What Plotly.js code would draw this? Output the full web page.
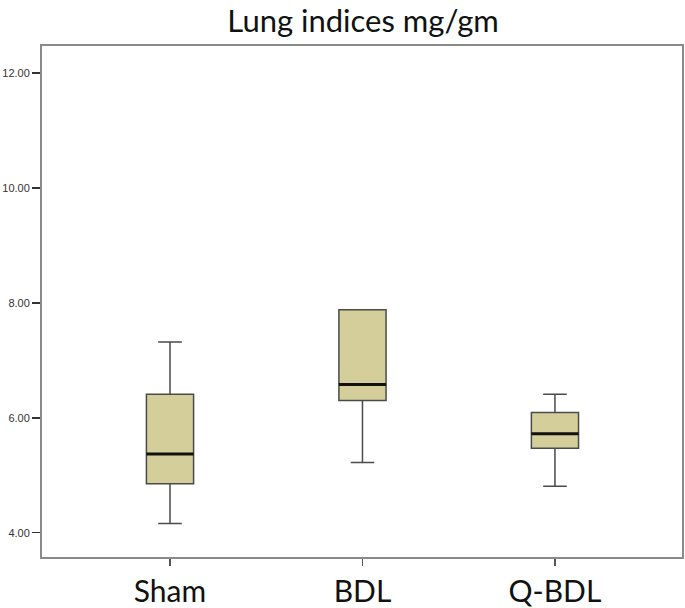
<!DOCTYPE html>
<html>
<head>
<meta charset="utf-8">
<script src="https://cdn.plot.ly/plotly-3.0.1.min.js"></script>
<style>html,body{margin:0;padding:0;background:#fff;}#chart{width:685px;height:608px;}</style>
</head>
<body>
<div id="chart"></div>
<script>
const categories = ["Sham", "BDL", "Q-BDL"];
const lowerFence = [4.16, 5.22, 4.81];
const q1Values = [4.85, 6.30, 5.47];
const medianValues = [5.37, 6.58, 5.72];
const q3Values = [6.41, 7.88, 6.09];
const upperFence = [7.32, 7.88, 6.41];
const yTickVals = [4, 6, 8, 10, 12];

const boxTrace = {
  type: "box",
  x: categories,
  q1: q1Values,
  median: medianValues,
  q3: q3Values,
  lowerfence: lowerFence,
  upperfence: upperFence,
  width: 0.245,
  whiskerwidth: 0.5,
  fillcolor: "#D4CF9A",
  line: {color: "#4a4a4a", width: 1.5},
  boxpoints: false,
  hoverinfo: "skip",
  showlegend: false
};
const medianTrace = {
  type: "box",
  x: categories,
  q1: medianValues,
  median: medianValues,
  q3: medianValues,
  lowerfence: medianValues,
  upperfence: medianValues,
  width: 0.245,
  whiskerwidth: 0,
  fillcolor: "rgba(0,0,0,0)",
  line: {color: "#111111", width: 3},
  boxpoints: false,
  hoverinfo: "skip",
  showlegend: false
};

const layout = {
  width: 685,
  height: 608,
  margin: {l: 42, r: 3, t: 46, b: 51},
  paper_bgcolor: "#ffffff",
  plot_bgcolor: "#ffffff",
  title: {
    text: "Lung indices mg/gm",
    font: {family: "Lato, sans-serif", size: 31, color: "#111"},
    x: 0.53, xanchor: "center",
    y: 0.965, yanchor: "middle", yref: "container"
  },
  xaxis: {
    type: "category",
    range: [-0.665, 2.66],
    showline: true, mirror: true, linecolor: "#8a8a8a", linewidth: 2,
    ticks: "outside", ticklen: 7, tickcolor: "#555", tickwidth: 1.5,
    showgrid: false, zeroline: false,
    tickfont: {family: "Lato, sans-serif", size: 30, color: "#111"}
  },
  yaxis: {
    range: [3.577, 12.47],
    tickvals: yTickVals,
    tickformat: ".2f",
    showline: true, mirror: true, linecolor: "#8a8a8a", linewidth: 2,
    ticks: "outside", ticklen: 8, tickcolor: "#333", tickwidth: 1.5,
    showgrid: false, zeroline: false,
    tickfont: {family: "Liberation Sans, Arial, sans-serif", size: 11, color: "#333"}
  }
};

Plotly.newPlot("chart", [boxTrace, medianTrace], layout, {staticPlot: true, displayModeBar: false});
</script>
</body>
</html>
